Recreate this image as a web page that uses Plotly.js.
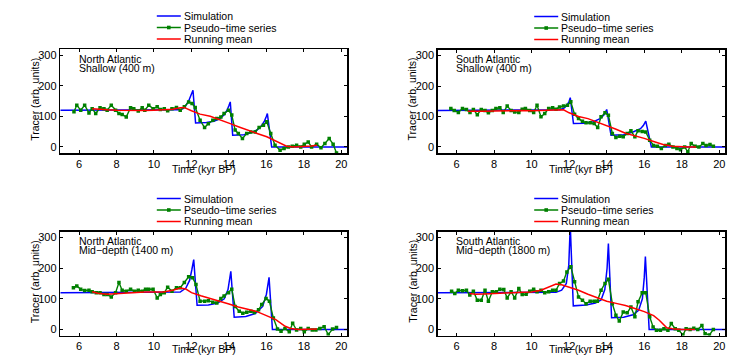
<!DOCTYPE html>
<html>
<head>
<meta charset="utf-8">
<script src="https://cdn.plot.ly/plotly-3.0.1.min.js"></script>
<style>html,body{margin:0;padding:0;background:#fff;}#chart{width:736px;height:355px;}</style>
</head>
<body>
<div id="chart"></div>
<script>
// ---------- tick labels ----------
const xTickVals = [6, 8, 10, 12, 14, 16, 18, 20];
const yTickVals = [0, 100, 200, 300];
const seriesNames = ["Simulation", "Pseudo\u2212time series", "Running mean"];
const panelRegions = ["North Atlantic", "South Atlantic", "North Atlantic", "South Atlantic"];
const panelDepths = ["Shallow (400 m)", "Shallow (400 m)", "Mid\u2212depth (1400 m)", "Mid\u2212depth (1800 m)"];

// ---------- North Atlantic, shallow ----------
const naShSimT = [5, 11.4, 11.55, 11.7, 11.85, 11.97, 12.08, 12.22, 12.8, 13.2, 13.5, 13.75, 13.9, 14.0, 14.07, 14.2, 14.8, 15.2, 15.5, 15.75, 15.9, 16.0, 16.05, 16.28, 20.3];
const naShSimV = [120, 121, 125, 135, 150, 168, 185, 78, 80, 84, 92, 105, 120, 135, 147, 38, 40, 47, 55, 70, 85, 100, 109, 0, 0];
const naShPseT = [5.73, 5.88, 6.09, 6.3, 6.53, 6.7, 6.89, 7.12, 7.33, 7.5, 7.72, 7.95, 8.13, 8.3, 8.52, 8.75, 8.92, 9.16, 9.37, 9.51, 9.72, 9.95, 10.17, 10.34, 10.55, 10.73, 10.96, 11.2, 11.4, 11.62, 11.85, 12.03, 12.2, 12.46, 12.7, 12.9, 13.14, 13.35, 13.57, 13.74, 13.98, 14.15, 14.33, 14.5, 14.72, 14.95, 15.17, 15.4, 15.61, 15.84, 16.02, 16.23, 16.46, 16.73, 16.94, 17.17, 17.38, 17.61, 17.83, 18.02, 18.23, 18.41, 18.68, 18.91, 19.12, 19.35, 19.56, 19.74];
const naShPseV = [115, 136, 120, 136, 111, 125, 109, 128, 125, 120, 136, 120, 109, 106, 98, 128, 125, 117, 128, 120, 136, 125, 131, 122, 125, 118, 125, 129, 120, 131, 147, 142, 129, 87, 63, 76, 87, 93, 98, 109, 120, 104, 55, 44, 27, 44, 49, 49, 63, 71, 82, 44, 5, -11, -5, 0, 2, 5, 0, 9, 16, 0, 9, -3, 11, 27, 9, -20];
const naShMeanT = [6.7, 7.0, 7.5, 8.0, 8.5, 9.0, 9.5, 10.0, 10.5, 11.0, 11.4, 11.6, 12.0, 12.46, 13.0, 13.35, 13.7, 14.07, 14.5, 14.95, 15.5, 16.02, 16.4, 16.73, 17.08, 17.5, 18.0, 18.4, 18.7];
const naShMeanV = [125, 123, 121, 120, 119, 118, 119, 120, 121, 123, 128, 129, 118, 107, 100, 93, 86, 76, 66, 55, 44, 33, 22, 13, 2, 0, 1, 3, 5];

// ---------- South Atlantic, shallow ----------
const saShSimT = [5, 11.5, 11.75, 11.9, 12.0, 12.06, 12.23, 12.8, 13.3, 13.65, 13.85, 14.0, 14.23, 14.9, 15.4, 15.8, 15.95, 16.08, 16.38, 20.3];
const saShSimV = [120, 122, 128, 138, 150, 162, 77, 78, 83, 93, 105, 123, 38, 40, 49, 60, 70, 85, 0, 0];
const saShPseT = [5.7, 5.88, 6.1, 6.32, 6.53, 6.72, 6.9, 7.11, 7.32, 7.52, 7.7, 7.91, 8.1, 8.31, 8.49, 8.7, 8.91, 9.1, 9.32, 9.5, 9.67, 9.9, 10.11, 10.29, 10.5, 10.7, 10.91, 11.12, 11.3, 11.49, 11.7, 11.91, 12.09, 12.29, 12.5, 12.71, 12.9, 13.12, 13.33, 13.52, 13.7, 13.91, 14.09, 14.3, 14.49, 14.7, 14.88, 15.09, 15.29, 15.5, 15.67, 15.89, 16.08, 16.29, 16.5, 16.7, 16.91, 17.12, 17.31, 17.53, 17.74, 17.93, 18.15, 18.32, 18.5, 18.71, 18.91, 19.12, 19.29, 19.5, 19.68];
const saShPseV = [126, 120, 113, 126, 123, 113, 123, 106, 123, 120, 112, 120, 126, 129, 113, 134, 120, 115, 113, 124, 126, 120, 113, 137, 99, 110, 126, 129, 124, 131, 134, 137, 148, 107, 93, 84, 79, 79, 77, 64, 99, 112, 104, 44, 31, 35, 33, 44, 53, 33, 53, 51, 49, 22, 5, 2, -5, 5, 9, 0, -5, -9, 0, -16, 11, 2, 0, 11, 5, 8, 2];
const saShMeanT = [6.6, 7.0, 7.5, 8.0, 8.5, 9.0, 9.5, 10.0, 10.5, 11.0, 11.4, 11.7, 12.0, 12.5, 13.0, 13.5, 14.0, 14.5, 15.0, 15.5, 16.0, 16.5, 17.0, 17.5, 18.0, 18.4, 18.76];
const saShMeanV = [117, 116, 117, 118, 119, 120, 120, 119, 120, 121, 122, 122, 112, 100, 93, 82, 70, 58, 45, 37, 28, 18, 8, 2, 0, 0, 0];

// ---------- North Atlantic, mid-depth ----------
const naMdSimT = [5, 11.4, 11.7, 11.9, 12.02, 12.12, 12.3, 12.9, 13.4, 13.75, 13.95, 14.05, 14.1, 14.28, 14.9, 15.4, 15.8, 16.0, 16.1, 16.14, 16.32, 20.3];
const naMdSimV = [120, 122, 135, 160, 195, 228, 79, 80, 86, 100, 130, 165, 190, 40, 42, 52, 75, 115, 155, 170, 0, 0];
const naMdPseT = [5.7, 5.88, 6.09, 6.3, 6.53, 6.7, 6.92, 7.12, 7.33, 7.5, 7.72, 7.95, 8.13, 8.3, 8.52, 8.75, 8.96, 9.16, 9.37, 9.55, 9.72, 9.95, 10.17, 10.34, 10.55, 10.73, 10.96, 11.2, 11.4, 11.62, 11.85, 12.06, 12.24, 12.46, 12.7, 12.9, 13.14, 13.35, 13.57, 13.74, 13.98, 14.15, 14.33, 14.55, 14.74, 14.95, 15.17, 15.36, 15.58, 15.75, 15.98, 16.16, 16.37, 16.59, 16.78, 16.99, 17.22, 17.4, 17.61, 17.83, 18.02, 18.23, 18.45, 18.64, 18.85, 19.08, 19.3, 19.53, 19.74];
const naMdPseV = [136, 142, 131, 127, 128, 123, 120, 120, 114, 114, 106, 120, 153, 128, 125, 131, 125, 128, 125, 131, 131, 131, 103, 114, 120, 138, 125, 136, 136, 153, 172, 169, 147, 92, 92, 94, 89, 86, 101, 109, 120, 131, 75, 59, 53, 56, 59, 55, 64, 81, 101, 92, 37, 1, -6, 3, -8, 20, -2, 3, -8, 3, -2, -2, 3, 9, -17, 1, 6];
const naMdMeanT = [6.7, 7.0, 7.5, 8.0, 8.5, 9.0, 9.5, 10.0, 10.5, 11.0, 11.4, 11.7, 12.0, 12.5, 13.0, 13.5, 14.0, 14.5, 15.0, 15.5, 16.0, 16.5, 17.0, 17.3, 17.7, 18.2, 18.7];
const naMdMeanV = [123, 118, 115, 117, 120, 122, 122, 122, 122, 128, 135, 132, 120, 110, 100, 92, 83, 73, 66, 58, 45, 32, 10, 3, 0, 0, 1];

// ---------- South Atlantic, mid-depth ----------
const saMdSimT = [5, 11.3, 11.6, 11.85, 11.98, 12.06, 12.22, 12.9, 13.4, 13.7, 13.9, 14.02, 14.09, 14.26, 14.9, 15.4, 15.7, 15.9, 16.0, 16.06, 16.26, 20.3];
const saMdSimV = [120, 121, 128, 150, 210, 340, 77, 80, 86, 96, 130, 200, 281, 38, 40, 48, 62, 100, 170, 238, 0, 0];
const saMdPseT = [5.74, 5.91, 6.1, 6.32, 6.53, 6.71, 6.9, 7.11, 7.32, 7.52, 7.7, 7.91, 8.12, 8.31, 8.52, 8.7, 8.91, 9.1, 9.32, 9.5, 9.71, 9.9, 10.11, 10.29, 10.5, 10.7, 10.91, 11.12, 11.3, 11.49, 11.7, 11.88, 12.09, 12.29, 12.5, 12.71, 12.9, 13.12, 13.33, 13.5, 13.7, 13.91, 14.09, 14.3, 14.49, 14.67, 14.88, 15.09, 15.29, 15.5, 15.67, 15.89, 16.08, 16.29, 16.47, 16.65, 16.86, 17.05, 17.26, 17.44, 17.65, 17.84, 18.06, 18.23, 18.44, 18.64, 18.85, 19.07, 19.24, 19.47, 19.68];
const saMdPseV = [125, 117, 128, 126, 128, 112, 125, 95, 95, 128, 92, 123, 123, 131, 130, 103, 123, 103, 134, 114, 115, 125, 131, 123, 128, 120, 123, 128, 128, 150, 158, 188, 205, 156, 106, 95, 84, 92, 92, 92, 128, 150, 164, 84, 46, 27, 57, 54, 73, 41, 90, 120, 120, 41, 8, -3, -3, 2, -3, 19, 2, -3, -18, 2, 0, 4, 0, 13, -14, -18, 0];
const saMdMeanT = [6.7, 7.0, 7.5, 8.0, 8.5, 9.0, 9.5, 10.0, 10.5, 11.0, 11.3, 11.6, 12.0, 12.5, 13.0, 13.5, 14.0, 14.5, 15.0, 15.5, 16.0, 16.5, 16.8, 17.2, 17.5, 18.0, 18.7];
const saMdMeanV = [117, 115, 116, 118, 119, 120, 121, 122, 128, 140, 148, 146, 138, 128, 115, 103, 92, 85, 78, 68, 58, 45, 30, 5, 2, 0, 0];

const panelSim = [[naShSimT, naShSimV], [saShSimT, saShSimV], [naMdSimT, naMdSimV], [saMdSimT, saMdSimV]];
const panelPse = [[naShPseT, naShPseV], [saShPseT, saShPseV], [naMdPseT, naMdPseV], [saMdPseT, saMdPseV]];
const panelMean = [[naShMeanT, naShMeanV], [saShMeanT, saShMeanV], [naMdMeanT, naMdMeanV], [saMdMeanT, saMdMeanV]];

// ---------- layout geometry (pixels) ----------
const W = 736, H = 355;
const boxes = [
  {x0: 60.3, x1: 347, y0: 49, y1: 153, tY: 169},
  {x0: 437.7, x1: 725, y0: 49.5, y1: 153, tY: 169},
  {x0: 60.3, x1: 347, y0: 231.5, y1: 335.5, tY: 349.3},
  {x0: 437.7, x1: 725, y0: 231.5, y1: 335.5, tY: 349.3}
];
const px = v => v / W;
const py = v => 1 - v / H;

const FONT = "Liberation Sans, Arial, Helvetica, sans-serif";
const colSim = "#0000ff", colPse = "#008000", colMean = "#ff0000";

const data = [];
const layout = {
  width: W, height: H,
  margin: {l: 0, r: 0, t: 0, b: 0},
  paper_bgcolor: "#ffffff", plot_bgcolor: "#ffffff",
  showlegend: false,
  font: {family: FONT, size: 11, color: "#000"},
  annotations: [], shapes: []
};

boxes.forEach((b, i) => {
  const s = i === 0 ? "" : String(i + 1);
  const xa = "x" + s, ya = "y" + s;
  data.push({x: panelSim[i][0], y: panelSim[i][1], xaxis: xa, yaxis: ya, type: "scatter", mode: "lines",
             line: {color: colSim, width: 1.5}, name: seriesNames[0], hoverinfo: "skip"});
  data.push({x: panelPse[i][0], y: panelPse[i][1], xaxis: xa, yaxis: ya, type: "scatter", mode: "lines+markers",
             line: {color: colPse, width: 1.4}, marker: {symbol: "square", size: 3.5, color: colPse}, name: seriesNames[1], hoverinfo: "skip"});
  data.push({x: panelMean[i][0], y: panelMean[i][1], xaxis: xa, yaxis: ya, type: "scatter", mode: "lines",
             line: {color: colMean, width: 1.5}, name: seriesNames[2], hoverinfo: "skip"});

  const axCommon = {ticks: "inside", ticklen: 3, tickwidth: 1, tickcolor: "#000", mirror: "allticks",
    showline: true, linecolor: "#000", linewidth: 1.5, showgrid: false, zeroline: false,
    tickfont: {family: FONT, size: 11, color: "#000"}, fixedrange: true, automargin: false};
  layout["xaxis" + s] = Object.assign({}, axCommon, {domain: [px(b.x0), px(b.x1)], anchor: ya,
    range: [5, 20.3], tickmode: "array", tickvals: xTickVals});
  layout["yaxis" + s] = Object.assign({}, axCommon, {domain: [py(b.y1), py(b.y0)], anchor: xa,
    range: [-20, 320], tickmode: "array", tickvals: yTickVals});

  // axis titles
  layout.annotations.push({xref: "paper", yref: "paper", x: px((b.x0 + b.x1) / 2), y: py(b.tY), text: "Time (kyr BP)",
    showarrow: false, xanchor: "center", yanchor: "middle", font: {family: FONT, size: 10.5, color: "#000"}, borderpad: 0});
  layout.annotations.push({xref: "paper", yref: "paper", x: px(b.x0 - 25.5), y: py((b.y0 + b.y1) / 2 - 2), text: "Tracer (arb. units)",
    textangle: -90, showarrow: false, xanchor: "center", yanchor: "middle", font: {family: FONT, size: 10.5, color: "#000"}, borderpad: 0});
  // panel labels
  layout.annotations.push({xref: "paper", yref: "paper", x: px(b.x0 + 17.5), y: py(b.y0 + 9.5), text: panelRegions[i],
    showarrow: false, xanchor: "left", yanchor: "middle", font: {family: FONT, size: 10.5, color: "#000"}, borderpad: 0});
  layout.annotations.push({xref: "paper", yref: "paper", x: px(b.x0 + 17.5), y: py(b.y0 + 19), text: panelDepths[i],
    showarrow: false, xanchor: "left", yanchor: "middle", font: {family: FONT, size: 10.5, color: "#000"}, borderpad: 0});

  // legend (one per panel, above plot)
  const rows = [b.y0 - 33, b.y0 - 21.5, b.y0 - 10];
  const cols = [colSim, colPse, colMean];
  const lx0 = b.x0 + 96.5, lx1 = b.x0 + 120.5;
  rows.forEach((ry, k) => {
    layout.shapes.push({type: "line", xref: "paper", yref: "paper", x0: px(lx0), x1: px(lx1), y0: py(ry), y1: py(ry),
      line: {color: cols[k], width: 1.5}});
    if (k === 1) {
      const cx = (lx0 + lx1) / 2;
      layout.shapes.push({type: "rect", xref: "paper", yref: "paper", x0: px(cx - 1.8), x1: px(cx + 1.8), y0: py(ry + 1.8), y1: py(ry - 1.8),
        line: {width: 0}, fillcolor: colPse});
    }
    layout.annotations.push({xref: "paper", yref: "paper", x: px(b.x0 + 122.5), y: py(ry), text: seriesNames[k],
      showarrow: false, xanchor: "left", yanchor: "middle", font: {family: FONT, size: 10.5, color: "#000"}, borderpad: 0});
  });
});

Plotly.newPlot("chart", data, layout, {displayModeBar: false, staticPlot: true});
</script>
</body>
</html>
